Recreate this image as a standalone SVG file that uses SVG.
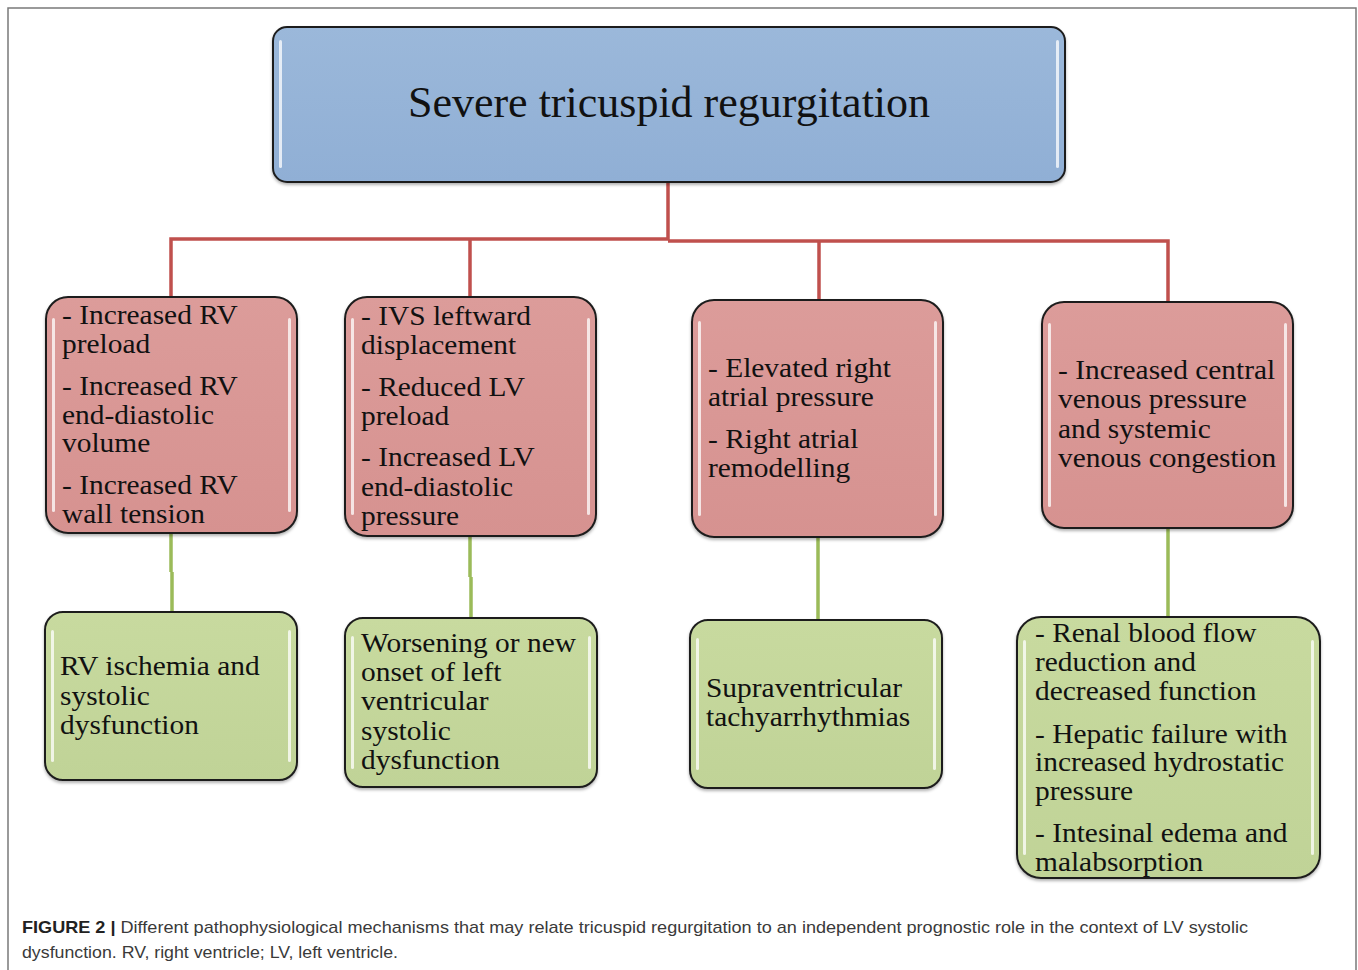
<svg xmlns="http://www.w3.org/2000/svg" width="1358" height="970" viewBox="0 0 1358 970">
<defs>
<linearGradient id="gBlue" x1="0" y1="0" x2="0" y2="1"><stop offset="0" stop-color="#9bb8da"/><stop offset="1" stop-color="#90afd5"/></linearGradient>
<linearGradient id="gRed" x1="0" y1="0" x2="0" y2="1"><stop offset="0" stop-color="#dc9c9a"/><stop offset="1" stop-color="#d69290"/></linearGradient>
<linearGradient id="gGreen" x1="0" y1="0" x2="0" y2="1"><stop offset="0" stop-color="#c8da9f"/><stop offset="1" stop-color="#c0d397"/></linearGradient>
<filter id="sh" x="-5%" y="-5%" width="110%" height="115%"><feDropShadow dx="0" dy="2" stdDeviation="1.5" flood-color="#000" flood-opacity="0.3"/></filter>
</defs>
<style>
.box{stroke:#1e1e1e;stroke-width:2;filter:url(#sh)}
.blue{fill:url(#gBlue)}
.red{fill:url(#gRed)}
.green{fill:url(#gGreen)}
.hl{fill:#ffffff;opacity:0.75}
.t{font-family:"Liberation Serif","Times New Roman",serif;font-size:27px;fill:#111}
.title{font-family:"Liberation Serif","Times New Roman",serif;font-size:44px;fill:#111}
.rc{fill:none;stroke:#c0504d;stroke-width:3.5}
.gc{fill:none;stroke:#9bbb59;stroke-width:3.5}
.cap{font-family:"Liberation Sans",Arial,sans-serif;font-size:17px;fill:#3a3a3a}
.capb{font-weight:bold;fill:#222}
</style>
<rect width="1358" height="970" fill="#ffffff"/>
<path d="M8 972 V8 H1356 V972" fill="none" stroke="#7a7a7a" stroke-width="1.5"/>

<g id="connectors">
<path class="rc" d="M668 182 V240 M171 297 V239 H668 M668 241 H1168 V302 M470 239 V297 M819 241 V300"/>
<path class="gc" d="M171 533 V572 M172 572 V612 M470 536 V577 M471 577 V618 M818 537 V620 M1168 528 V617"/>
</g>

<g id="top">
<rect class="box blue" x="273" y="27" width="792" height="155" rx="14"/>
<rect class="hl" x="279" y="40" width="3" height="128" rx="1.5"/>
<rect class="hl" x="1056" y="40" width="3" height="128" rx="1.5"/>
<text class="title" x="669" y="117" text-anchor="middle">Severe tricuspid regurgitation</text>
</g>

<g id="r1">
<rect class="box red" x="46" y="297" width="251" height="236" rx="22"/>
<rect class="hl" x="52" y="318" width="3" height="194" rx="1.5"/>
<rect class="hl" x="288" y="318" width="3" height="194" rx="1.5"/>
<g transform="translate(62,0) scale(1.09,1)">
<text class="t" x="0" y="324">- Increased RV</text>
<text class="t" x="0" y="353">preload</text>
<text class="t" x="0" y="395">- Increased RV</text>
<text class="t" x="0" y="424">end-diastolic</text>
<text class="t" x="0" y="452">volume</text>
<text class="t" x="0" y="494">- Increased RV</text>
<text class="t" x="0" y="523">wall tension</text>
</g>
</g>

<g id="r2">
<rect class="box red" x="345" y="297" width="251" height="239" rx="22"/>
<rect class="hl" x="351" y="318" width="3" height="197" rx="1.5"/>
<rect class="hl" x="587" y="318" width="3" height="197" rx="1.5"/>
<g transform="translate(361,0) scale(1.09,1)">
<text class="t" x="0" y="325">- IVS leftward</text>
<text class="t" x="0" y="354">displacement</text>
<text class="t" x="0" y="396">- Reduced LV</text>
<text class="t" x="0" y="425">preload</text>
<text class="t" x="0" y="466">- Increased LV</text>
<text class="t" x="0" y="496">end-diastolic</text>
<text class="t" x="0" y="525">pressure</text>
</g>
</g>

<g id="r3">
<rect class="box red" x="692" y="300" width="251" height="237" rx="22"/>
<rect class="hl" x="698" y="321" width="3" height="195" rx="1.5"/>
<rect class="hl" x="934" y="321" width="3" height="195" rx="1.5"/>
<g transform="translate(708,0) scale(1.09,1)">
<text class="t" x="0" y="377">- Elevated right</text>
<text class="t" x="0" y="406">atrial pressure</text>
<text class="t" x="0" y="448">- Right atrial</text>
<text class="t" x="0" y="477">remodelling</text>
</g>
</g>

<g id="r4">
<rect class="box red" x="1042" y="302" width="251" height="226" rx="22"/>
<rect class="hl" x="1048" y="323" width="3" height="184" rx="1.5"/>
<rect class="hl" x="1284" y="323" width="3" height="184" rx="1.5"/>
<g transform="translate(1058,0) scale(1.09,1)">
<text class="t" x="0" y="379">- Increased central</text>
<text class="t" x="0" y="408">venous pressure</text>
<text class="t" x="0" y="438">and systemic</text>
<text class="t" x="0" y="467">venous congestion</text>
</g>
</g>

<g id="g1">
<rect class="box green" x="45" y="612" width="252" height="168" rx="18"/>
<rect class="hl" x="51" y="630" width="3" height="132" rx="1.5"/>
<rect class="hl" x="288" y="630" width="3" height="132" rx="1.5"/>
<g transform="translate(60,0) scale(1.09,1)">
<text class="t" x="0" y="675">RV ischemia and</text>
<text class="t" x="0" y="705">systolic</text>
<text class="t" x="0" y="734">dysfunction</text>
</g>
</g>

<g id="g2">
<rect class="box green" x="345" y="618" width="252" height="169" rx="18"/>
<rect class="hl" x="351" y="636" width="3" height="133" rx="1.5"/>
<rect class="hl" x="588" y="636" width="3" height="133" rx="1.5"/>
<g transform="translate(361,0) scale(1.09,1)">
<text class="t" x="0" y="652">Worsening or new</text>
<text class="t" x="0" y="681">onset of left</text>
<text class="t" x="0" y="710">ventricular</text>
<text class="t" x="0" y="740">systolic</text>
<text class="t" x="0" y="769">dysfunction</text>
</g>
</g>

<g id="g3">
<rect class="box green" x="690" y="620" width="252" height="168" rx="18"/>
<rect class="hl" x="696" y="638" width="3" height="132" rx="1.5"/>
<rect class="hl" x="933" y="638" width="3" height="132" rx="1.5"/>
<g transform="translate(706,0) scale(1.09,1)">
<text class="t" x="0" y="697">Supraventricular</text>
<text class="t" x="0" y="726">tachyarrhythmias</text>
</g>
</g>

<g id="g4">
<rect class="box green" x="1017" y="617" width="303" height="261" rx="24"/>
<rect class="hl" x="1023" y="640" width="3" height="215" rx="1.5"/>
<rect class="hl" x="1311" y="640" width="3" height="215" rx="1.5"/>
<g transform="translate(1035,0) scale(1.09,1)">
<text class="t" x="0" y="642">- Renal blood flow</text>
<text class="t" x="0" y="671">reduction and</text>
<text class="t" x="0" y="700">decreased function</text>
<text class="t" x="0" y="743">- Hepatic failure with</text>
<text class="t" x="0" y="771">increased hydrostatic</text>
<text class="t" x="0" y="800">pressure</text>
<text class="t" x="0" y="842">- Intesinal edema and</text>
<text class="t" x="0" y="871">malabsorption</text>
</g>
</g>

<g id="caption">
<text class="cap" x="22" y="933" textLength="1226" lengthAdjust="spacingAndGlyphs"><tspan class="capb">FIGURE 2 |</tspan> Different pathophysiological mechanisms that may relate tricuspid regurgitation to an independent prognostic role in the context of LV systolic</text>
<text class="cap" x="22" y="958" textLength="376" lengthAdjust="spacingAndGlyphs">dysfunction. RV, right ventricle; LV, left ventricle.</text>
</g>
</svg>
